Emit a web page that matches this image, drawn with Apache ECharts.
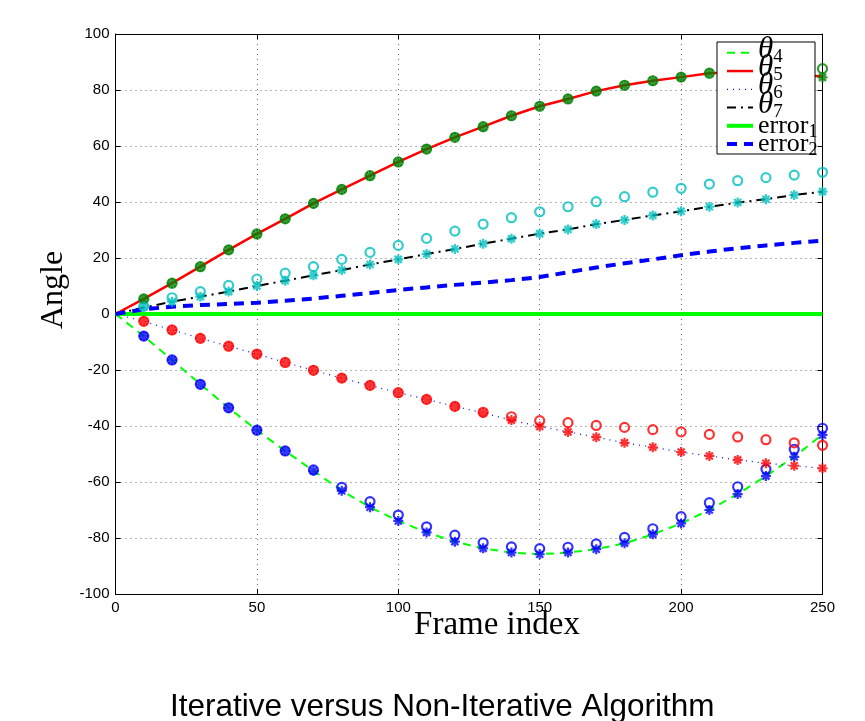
<!DOCTYPE html>
<html>
<head>
<meta charset="utf-8">
<script src="https://cdn.jsdelivr.net/npm/echarts@6/dist/echarts.min.js"></script>
<style>
  html, body { margin: 0; padding: 0; background: #fff; }
  #main { width: 865px; height: 721px; }
</style>
</head>
<body>
<div id="main"></div>
<script>
// frame indices for the lines (0..250) and for the markers (10..250)
const frames = [0, 10, 20, 30, 40, 50, 60, 70, 80, 90, 100, 110, 120, 130, 140, 150, 160, 170, 180, 190, 200, 210, 220, 230, 240, 250];
const markerFrames = frames.slice(1);

// ground-truth angle curves
const theta4 = [0, -7.9, -16.4, -25.1, -33.5, -41.5, -48.9, -56.0, -63.1, -69.0, -73.9, -78.0, -81.3, -83.7, -85.2, -85.8, -85.2, -84.0, -81.9, -78.7, -74.8, -70.0, -64.3, -57.9, -51.0, -43.0];
const theta5 = [0, 5.4, 11.0, 16.9, 22.9, 28.6, 34.0, 39.5, 44.5, 49.4, 54.3, 58.9, 63.1, 66.9, 70.8, 74.2, 76.8, 79.6, 81.7, 83.3, 84.6, 86.0, 86.3, 86.2, 85.6, 84.8];
const theta6 = [0, -2.6, -5.7, -8.7, -11.5, -14.3, -17.3, -20.1, -22.9, -25.5, -28.1, -30.5, -33.0, -35.3, -37.9, -40.2, -42.1, -44.0, -46.0, -47.6, -49.3, -50.7, -52.1, -53.3, -54.2, -55.1];
const theta7 = [0, 2.3, 4.4, 6.2, 8.0, 10.0, 11.9, 13.8, 15.7, 17.7, 19.5, 21.4, 23.2, 25.1, 26.9, 28.7, 30.2, 32.1, 33.6, 35.2, 36.7, 38.3, 39.8, 41.0, 42.5, 43.7];
const error1 = [0, 0, 0, 0, 0, 0, 0, 0, 0, 0, 0, 0, 0, 0, 0, 0, 0, 0, 0, 0, 0, 0, 0, 0, 0, 0];
const error2 = [0, 1.7, 2.6, 3.2, 3.6, 4.0, 4.7, 5.5, 6.5, 7.5, 8.6, 9.5, 10.4, 11.2, 12.1, 13.2, 14.9, 16.6, 18.1, 19.5, 21.0, 22.3, 23.5, 24.5, 25.4, 26.2];

// estimates at frames 10..250: 'o' = iterative, '*' = non-iterative
const theta4Circ = [-7.9, -16.4, -25.1, -33.5, -41.5, -48.9, -55.7, -61.9, -67.0, -71.8, -76.0, -79.0, -81.7, -83.2, -83.8, -83.3, -82.1, -79.8, -76.7, -72.4, -67.4, -61.7, -55.4, -48.3, -40.8];
const theta4Star = [-7.9, -16.4, -25.1, -33.5, -41.5, -48.9, -56.0, -63.1, -69.0, -73.9, -78.0, -81.3, -83.7, -85.2, -85.8, -85.2, -84.0, -81.9, -78.7, -74.8, -70.0, -64.3, -57.9, -51.0, -43.2];
const theta5Circ = [5.4, 11.0, 16.9, 22.9, 28.6, 34.0, 39.5, 44.5, 49.4, 54.3, 58.9, 63.1, 66.9, 70.8, 74.2, 76.8, 79.6, 81.7, 83.3, 84.6, 86.0, 86.3, 86.2, 85.6, 87.6];
const theta5Star = [5.4, 11.0, 16.9, 22.9, 28.6, 34.0, 39.5, 44.5, 49.4, 54.3, 58.9, 63.1, 66.9, 70.8, 74.2, 76.8, 79.6, 81.7, 83.3, 84.6, 86.0, 86.3, 86.2, 85.6, 84.5];
const theta6Circ = [-2.6, -5.7, -8.7, -11.5, -14.3, -17.3, -20.1, -22.9, -25.5, -28.1, -30.5, -33.0, -35.1, -36.7, -38.1, -38.8, -39.8, -40.5, -41.3, -42.1, -43.0, -43.9, -44.9, -46.0, -46.9];
const theta6Star = [-2.6, -5.7, -8.7, -11.5, -14.3, -17.3, -20.1, -22.9, -25.5, -28.1, -30.5, -33.0, -35.3, -37.9, -40.2, -42.1, -44.0, -46.0, -47.6, -49.3, -50.7, -52.1, -53.3, -54.2, -55.1];
const theta7Circ = [2.8, 5.8, 8.0, 10.2, 12.5, 14.6, 16.9, 19.5, 22.0, 24.5, 27.0, 29.6, 32.1, 34.4, 36.5, 38.3, 40.1, 41.9, 43.5, 44.9, 46.4, 47.6, 48.7, 49.6, 50.6];
const theta7Star = [2.6, 4.4, 6.2, 8.0, 10.0, 11.9, 13.8, 15.7, 17.7, 19.5, 21.4, 23.2, 25.1, 26.9, 28.7, 30.2, 32.1, 33.6, 35.2, 36.7, 38.3, 39.8, 41.0, 42.5, 43.7];

const xTicks = { min: 0, max: 250, step: 50 };
const yTicks = { min: -100, max: 100, step: 20 };

const legendNames = ['theta4', 'theta5', 'theta6', 'theta7', 'error1', 'error2'];
const legendWidths = [2, 2.5, 1.2, 2, 4, 4];

const serif = 'Liberation Serif';
const sans = 'Liberation Sans';
const STAR = 'path://M5 0L5 10M0 5L10 5M1.5 1.5L8.5 8.5M8.5 1.5L1.5 8.5';

// legend box geometry (MATLAB legend: text spills over the right edge)
const LEG_BOX = { x: 717, y: 42, w: 98, h: 112 };
const LEG_ROW0 = 53.3;
const LEG_PITCH = 18.25;
const LEG_ITEM_H = 50;

function pairs(xs, ys) {
    return xs.map((x, i) => [x, ys[i]]);
}

function lineSeries(name, ys, color, width, type) {
    return {
        name: name,
        type: 'line',
        data: pairs(frames, ys),
        symbol: 'none',
        z: 2,
        lineStyle: { color: color, width: width, type: type },
        itemStyle: { color: color },
        silent: true
    };
}

function circleSeries(ys, color) {
    return {
        name: 'o-' + color,
        type: 'scatter',
        data: pairs(markerFrames, ys),
        symbol: 'circle',
        symbolSize: 9,
        z: 4,
        itemStyle: { color: 'rgba(0,0,0,0)', borderColor: color, borderWidth: 2.2 },
        silent: true
    };
}

function starSeries(ys, color) {
    return {
        name: '*-' + color,
        type: 'scatter',
        data: pairs(markerFrames, ys),
        symbol: STAR,
        symbolSize: 10,
        z: 5,
        itemStyle: { color: color, borderColor: color, borderWidth: 2.2 },
        silent: true
    };
}

// one legend per row so the rows can overlap like the original;
// the hidden legend symbol is wider than the icon, hence the -7 / +4.5 nudges
function legendRow(name, i) {
    return {
        data: [name],
        orient: 'vertical',
        left: LEG_BOX.x + 3,
        top: LEG_ROW0 + i * LEG_PITCH - LEG_ITEM_H / 2 + 4.5,
        padding: 0,
        itemWidth: 26,
        itemHeight: LEG_ITEM_H,
        z: 21,
        selectedMode: false,
        itemStyle: { opacity: 0 },
        lineStyle: { width: legendWidths[i] },
        formatter: function (n) {
            const sub = n.slice(-1);
            if (n.indexOf('theta') === 0) return '{t|θ}{ts|' + sub + '}';
            return '{e|error}{es|' + sub + '}';
        },
        textStyle: {
            color: '#000',
            rich: {
                t: { fontFamily: serif, fontStyle: 'italic', fontSize: 31, lineHeight: 31, padding: [0, 0, 6, 0], color: '#000' },
                ts: { fontFamily: serif, fontSize: 19, lineHeight: 19, padding: [8, 0, 0, 0], color: '#000' },
                e: { fontFamily: serif, fontSize: 26, lineHeight: 26, color: '#000' },
                es: { fontFamily: serif, fontSize: 18, lineHeight: 18, padding: [12, 0, 0, 0], color: '#000' }
            }
        }
    };
}

const chart = echarts.init(document.getElementById('main'), null, { renderer: 'canvas' });

const frameAxis = {
    type: 'value',
    min: xTicks.min,
    max: xTicks.max,
    interval: xTicks.step,
    axisLine: { show: true, onZero: false, lineStyle: { color: '#000', width: 1 } },
    axisTick: { show: true, inside: true, length: 5, lineStyle: { color: '#000' } },
    splitLine: { show: false }
};
const angleAxis = {
    type: 'value',
    min: yTicks.min,
    max: yTicks.max,
    interval: yTicks.step,
    axisLine: { show: true, onZero: false, lineStyle: { color: '#000', width: 1 } },
    axisTick: { show: true, inside: true, length: 5, lineStyle: { color: '#000' } },
    splitLine: { show: false }
};

chart.setOption({
    backgroundColor: '#fff',
    animation: false,
    title: {
        text: 'Iterative versus Non-Iterative Algorithm',
        left: 165,
        top: 686,
        textStyle: { fontFamily: sans, fontSize: 31.5, fontWeight: 'normal', color: '#000' }
    },
    grid: { left: 115.5, right: 42.5, top: 34, bottom: 127, containLabel: false },
    xAxis: [
        Object.assign({}, frameAxis, {
            position: 'bottom',
            name: 'Frame index',
            nameLocation: 'middle',
            nameGap: 15,
            nameMoveOverlap: false,
            nameTextStyle: { fontFamily: serif, fontSize: 33, color: '#000', padding: [0, 0, 0, 56] },
            axisLabel: { show: true, color: '#000', fontFamily: sans, fontSize: 15, margin: 6 },
            splitLine: { show: true, lineStyle: { color: '#666', width: 1, type: [1, 4] } }
        }),
        Object.assign({}, frameAxis, { position: 'top', axisLabel: { show: false } })
    ],
    yAxis: [
        Object.assign({}, angleAxis, {
            position: 'left',
            name: 'Angle',
            nameLocation: 'middle',
            nameGap: 46,
            nameMoveOverlap: false,
            nameTextStyle: { fontFamily: serif, fontSize: 32, color: '#000', padding: [0, 0, 0, 48] },
            axisLabel: { show: true, color: '#000', fontFamily: sans, fontSize: 15, margin: 6 },
            splitLine: { show: true, lineStyle: { color: '#666', width: 1, type: [1, 4] } }
        }),
        Object.assign({}, angleAxis, { position: 'right', axisLabel: { show: false } })
    ],
    graphic: [{
        type: 'rect',
        z: 20,
        shape: { x: LEG_BOX.x, y: LEG_BOX.y, width: LEG_BOX.w, height: LEG_BOX.h },
        style: { fill: '#fff', stroke: '#000', lineWidth: 1 }
    }],
    legend: legendNames.map(legendRow),
    series: [
        lineSeries('theta4', theta4, '#00ff00', 2, [8, 6]),
        lineSeries('theta5', theta5, '#ff0000', 2.5, 'solid'),
        lineSeries('theta6', theta6, '#0000ff', 1.2, [1, 5]),
        lineSeries('theta7', theta7, '#000000', 2, [9, 5, 2, 5]),
        lineSeries('error1', error1, '#00ff00', 4, 'solid'),
        lineSeries('error2', error2, '#0000ff', 4, [10, 7]),
        circleSeries(theta4Circ, '#0000ff'),
        starSeries(theta4Star, '#0000ff'),
        circleSeries(theta5Circ, '#007f00'),
        starSeries(theta5Star, '#007f00'),
        circleSeries(theta6Circ, '#ff0000'),
        starSeries(theta6Star, '#ff0000'),
        circleSeries(theta7Circ, '#00bfbf'),
        starSeries(theta7Star, '#00bfbf')
    ]
});

window.addEventListener('resize', () => chart.resize());
</script>
</body>
</html>
